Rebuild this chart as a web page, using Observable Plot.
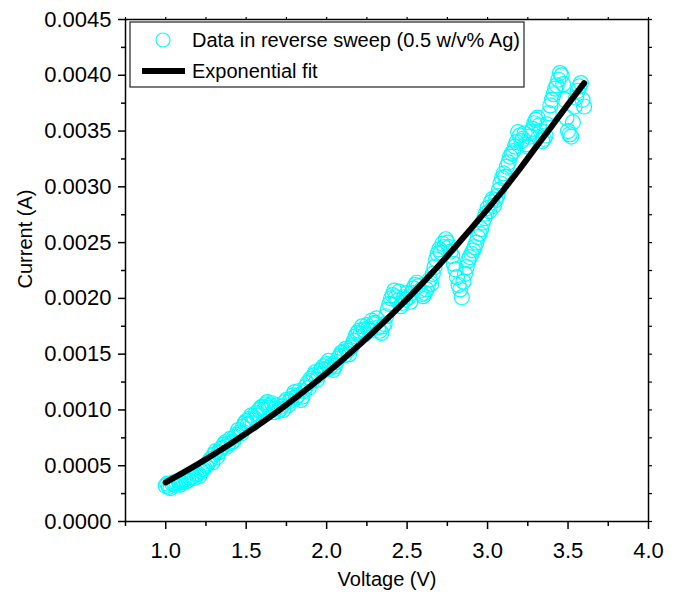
<!DOCTYPE html>
<html><head><meta charset="utf-8">
<script src="https://cdn.jsdelivr.net/npm/d3@7"></script>
<script src="https://cdn.jsdelivr.net/npm/@observablehq/plot@0.6"></script>
<style>body{margin:0;background:#fff;} svg{font-family:"Liberation Sans",Arial,sans-serif;}</style>
</head><body><div id="chart"></div><script>
const voltage = [1.00,1.02,1.04,1.06,1.08,1.10,1.12,1.14,1.16,1.18,1.20,1.22,1.24,1.26,1.28,1.30,1.32,1.34,1.36,1.38,
1.40,1.42,1.44,1.46,1.48,1.50,1.52,1.54,1.56,1.58,1.60,1.62,1.64,1.66,1.68,1.70,1.72,1.74,1.76,1.78,
1.80,1.82,1.84,1.86,1.88,1.90,1.92,1.94,1.96,1.98,2.00,2.02,2.04,2.06,2.08,2.10,2.12,2.14,2.16,2.18,
2.20,2.22,2.24,2.26,2.28,2.30,2.32,2.34,2.36,2.38,2.40,2.42,2.44,2.46,2.48,2.50,2.52,2.54,2.56,2.58,
2.60,2.62,2.64,2.66,2.68,2.70,2.72,2.74,2.76,2.78,2.80,2.82,2.84,2.86,2.88,2.90,2.92,2.94,2.96,2.98,
3.00,3.02,3.04,3.06,3.08,3.10,3.12,3.14,3.16,3.18,3.20,3.22,3.24,3.26,3.28,3.30,3.32,3.34,3.36,3.38,
3.40,3.42,3.44,3.46,3.48,3.50,3.52,3.54,3.56,3.58,3.60];
const current = [0.00032,0.00031,0.00034,0.00033,0.00036,0.00035,0.00038,0.00037,0.00040,0.00039,
0.00043,0.00045,0.00048,0.00052,0.00056,0.00060,0.00058,0.00065,0.00069,0.00067,
0.00074,0.00072,0.00078,0.00080,0.00085,0.00090,0.00092,0.00088,0.00097,0.00100,
0.00103,0.00105,0.00102,0.00106,0.00101,0.00099,0.00103,0.00107,0.00104,0.00110,
0.00116,0.00113,0.00109,0.00117,0.00124,0.00128,0.00131,0.00127,0.00135,0.00139,
0.00141,0.00138,0.00136,0.00143,0.00148,0.00152,0.00155,0.00150,0.00158,0.00166,
0.00171,0.00175,0.00168,0.00173,0.00180,0.00178,0.00174,0.00169,0.00177,0.00190,
0.00200,0.00207,0.00198,0.00193,0.00201,0.00205,0.00197,0.00209,0.00214,0.00207,
0.00202,0.00208,0.00217,0.00222,0.00235,0.00244,0.00249,0.00253,0.00246,0.00238,
0.00226,0.00212,0.00201,0.00222,0.00234,0.00240,0.00246,0.00255,0.00262,0.00272,
0.00281,0.00286,0.00283,0.00292,0.00303,0.00312,0.00318,0.00327,0.00332,0.00340,
0.00346,0.00343,0.00338,0.00345,0.00352,0.00360,0.00355,0.00341,0.00346,0.00366,
0.00378,0.00388,0.00396,0.00400,0.00378,0.00350,0.00345,0.00372,0.00386,0.00393,0.00372];
const voltage2 = [1.01,1.03,1.05,1.07,1.09,1.11,1.13,1.15,1.17,1.19,1.21,1.23,1.25,1.27,1.29,1.31,1.33,1.35,1.37,1.39,
1.41,1.43,1.45,1.47,1.49,1.51,1.53,1.55,1.57,1.59,1.61,1.63,1.65,1.67,1.69,1.71,1.73,1.75,1.77,1.79,
1.81,1.83,1.85,1.87,1.89,1.91,1.93,1.95,1.97,1.99,2.01,2.03,2.05,2.07,2.09,2.11,2.13,2.15,2.17,2.19,
2.21,2.23,2.25,2.27,2.29,2.31,2.33,2.35,2.37,2.39,2.41,2.43,2.45,2.47,2.49,2.51,2.53,2.55,2.57,2.59,
2.61,2.63,2.65,2.67,2.69,2.71,2.73,2.75,2.77,2.79,2.81,2.83,2.85,2.87,2.89,2.91,2.93,2.95,2.97,2.99,
3.01,3.03,3.05,3.07,3.09,3.11,3.13,3.15,3.17,3.19,3.21,3.23,3.25,3.27,3.29,3.31,3.33,3.35,3.37,3.39,
3.41,3.43,3.45,3.47,3.49,3.51,3.53,3.55,3.57,3.59];
const current2 = [0.00034,0.00030,0.00035,0.00034,0.00033,0.00037,0.00036,0.00039,0.00041,0.00042,
0.00041,0.00047,0.00050,0.00054,0.00053,0.00063,0.00062,0.00066,0.00071,0.00070,
0.00071,0.00076,0.00082,0.00079,0.00088,0.00087,0.00095,0.00093,0.00095,0.00102,
0.00100,0.00107,0.00104,0.00098,0.00104,0.00101,0.00100,0.00109,0.00108,0.00113,
0.00111,0.00117,0.00112,0.00121,0.00120,0.00126,0.00134,0.00131,0.00137,0.00136,
0.00144,0.00140,0.00139,0.00146,0.00151,0.00149,0.00153,0.00156,0.00162,0.00169,
0.00168,0.00172,0.00176,0.00171,0.00177,0.00182,0.00171,0.00175,0.00184,0.00195,
0.00203,0.00201,0.00206,0.00196,0.00199,0.00201,0.00205,0.00212,0.00211,0.00204,
0.00205,0.00212,0.00213,0.00228,0.00240,0.00241,0.00246,0.00250,0.00242,0.00231,
0.00219,0.00208,0.00215,0.00228,0.00237,0.00243,0.00250,0.00258,0.00268,0.00276,
0.00278,0.00289,0.00288,0.00297,0.00308,0.00309,0.00322,0.00330,0.00336,0.00349,
0.00341,0.00348,0.00336,0.00349,0.00357,0.00362,0.00350,0.00343,0.00356,0.00373,
0.00383,0.00391,0.00402,0.00392,0.00362,0.00347,0.00358,0.00380,0.00390,0.00378];
const fitVoltage = [1.0,1.1,1.2,1.3,1.4,1.5,1.6,1.7,1.8,1.9,2.0,2.1,2.2,2.3,2.4,2.5,2.6,2.7,2.8,2.9,3.0,3.1,3.2,3.3,3.4,3.5,3.6];
const fitCurrent = [0.000350,0.000431,0.000515,0.000603,0.000694,0.000790,0.000889,0.000993,0.001101,0.001213,
0.001330,0.001452,0.001579,0.001712,0.001850,0.001994,0.002144,0.002300,0.002463,0.002630,
0.002800,0.002975,0.003160,0.003355,0.003545,0.003740,0.003930];
const xMajorTicks = [1.0,1.5,2.0,2.5,3.0,3.5,4.0];
const xMinorTicks = [0.75,1.25,1.75,2.25,2.75,3.25,3.75];
const yMajorTicks = [0,0.0005,0.0010,0.0015,0.0020,0.0025,0.0030,0.0035,0.0040,0.0045];
const yMinorTicks = [0.00025,0.00075,0.00125,0.00175,0.00225,0.00275,0.00325,0.00375,0.00425];
const seriesLabels = ["Data in reverse sweep (0.5 w/v% Ag)", "Exponential fit"];
const xLabel = "Voltage (V)";
const yLabel = "Current (A)";

const points = voltage.map((v, i) => ({v, c: current[i]}))
  .concat(voltage2.map((v, i) => ({v, c: current2[i]})));
const fit = fitVoltage.map((v, i) => ({v, c: fitCurrent[i]}));
const allX = xMajorTicks.concat(xMinorTicks);
const allY = yMajorTicks.concat(yMinorTicks);

const svg = Plot.plot({
  width: 684, height: 607,
  marginLeft: 125, marginRight: 36, marginTop: 19, marginBottom: 86,
  style: {fontFamily: '"Liberation Sans", Arial, sans-serif', fontSize: "22px", background: "white", color: "black"},
  x: {domain: [0.75, 4.0]},
  y: {domain: [0, 0.0045]},
  marks: [
    Plot.dot(points, {x: "v", y: "c", r: 7.5, stroke: "#00FFFF", strokeWidth: 1.2, fill: "none"}),
    Plot.line(fit, {x: "v", y: "c", stroke: "black", strokeWidth: 6}),
    Plot.frame({stroke: "black", strokeWidth: 1.5}),
    Plot.axisX({ticks: xMajorTicks, tickSize: 8, tickPadding: 13, tickFormat: d => d.toFixed(1), label: null, strokeWidth: 1.5}),
    Plot.axisX({ticks: xMinorTicks, tickSize: 5, text: null, label: null, strokeWidth: 1.5}),
    Plot.axisX({anchor: "top", ticks: allX, tickSize: 3, text: null, label: null, strokeWidth: 1.2}),
    Plot.axisY({ticks: yMajorTicks, tickSize: 7, tickPadding: 7, tickFormat: d => d.toFixed(4), label: null, strokeWidth: 1.5}),
    Plot.axisY({ticks: yMinorTicks, tickSize: 4, text: null, label: null, strokeWidth: 1.5}),
    Plot.axisY({anchor: "right", ticks: allY, tickSize: 3, text: null, label: null, strokeWidth: 1.2}),
    Plot.text([xLabel], {text: d => d, frameAnchor: "bottom", dy: 64, fontSize: 20, fill: "black"}),
    Plot.text([yLabel], {text: d => d, frameAnchor: "left", dx: -100, dy: 18, rotate: -90, fontSize: 20, fill: "black"})
  ]
});

const lg = d3.select(svg).append("g").attr("text-anchor", "start");
lg.append("rect").attr("x", 130).attr("y", 22).attr("width", 394).attr("height", 65)
  .attr("fill", "white").attr("stroke", "#222").attr("stroke-width", 1.2);
lg.append("circle").attr("cx", 163).attr("cy", 40).attr("r", 7).attr("fill", "none")
  .attr("stroke", "#00FFFF").attr("stroke-width", 1.2);
lg.append("line").attr("x1", 142).attr("x2", 185).attr("y1", 71).attr("y2", 71)
  .attr("stroke", "black").attr("stroke-width", 6);
seriesLabels.forEach((t, i) => {
  lg.append("text").attr("x", 192).attr("y", i === 0 ? 40 : 71).attr("dy", "0.35em")
    .attr("text-anchor", "start").attr("font-size", 20).attr("fill", "black").text(t);
});

document.getElementById("chart").appendChild(svg);
</script></body></html>
